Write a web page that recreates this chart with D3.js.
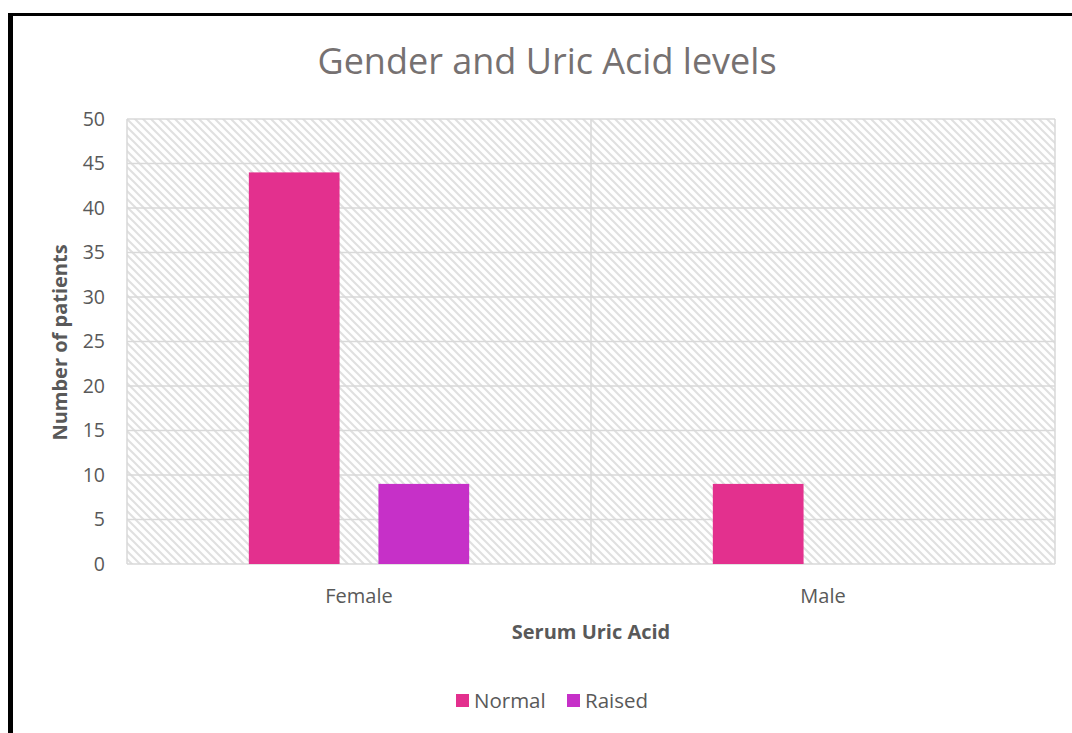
<!DOCTYPE html>
<html>
<head>
<meta charset="utf-8">
<script src="https://cdn.jsdelivr.net/npm/d3@7"></script>
<style>
  html, body { margin: 0; padding: 0; background: #fff; }
  svg { display: block; }
</style>
</head>
<body>
<svg id="chart" width="1072" height="733"></svg>
<script>
// Chart data
const categories = ["Female", "Male"];
const seriesNames = ["Normal", "Raised"];
const normalValues = [44, 9];
const raisedValues = [9, 0];
const yTicks = [0, 5, 10, 15, 20, 25, 30, 35, 40, 45, 50];
const seriesColors = ["#e3308e", "#c630c8"];

const svg = d3.select("#chart");
const W = 1072, H = 733;
const plot = { left: 127, right: 1055, top: 119, bottom: 564 };
const font = "'Open Sans', 'Liberation Sans', sans-serif";

// Outer frame (top and left edges)
svg.append("line").attr("x1", 8).attr("x2", W).attr("y1", 14.5).attr("y2", 14.5)
  .attr("stroke", "#000").attr("stroke-width", 3);
svg.append("line").attr("x1", 10.5).attr("x2", 10.5).attr("y1", 13).attr("y2", H)
  .attr("stroke", "#000").attr("stroke-width", 5);

// Diagonal hatch fill for the plot area
const defs = svg.append("defs");
const pat = defs.append("pattern").attr("id", "hatch")
  .attr("patternUnits", "userSpaceOnUse").attr("width", 8).attr("height", 8);
pat.append("rect").attr("width", 8).attr("height", 8).attr("fill", "#fff");
pat.append("path").attr("d", "M-2,-2 L10,10 M-2,6 L2,10 M6,-2 L10,2")
  .attr("stroke", "#e0e0e0").attr("stroke-width", 2);

const x0 = d3.scaleBand().domain(categories).range([plot.left, plot.right]);
const x1 = d3.scaleBand().domain(seriesNames).range([0, x0.bandwidth()])
  .paddingInner(0.3).paddingOuter(0.94);
const y = d3.scaleLinear().domain([0, 50]).range([plot.bottom, plot.top]);

svg.append("rect").attr("x", plot.left).attr("y", plot.top)
  .attr("width", plot.right - plot.left).attr("height", plot.bottom - plot.top)
  .attr("fill", "url(#hatch)");

// Horizontal gridlines
svg.append("g").selectAll("line").data(yTicks).join("line")
  .attr("x1", plot.left).attr("x2", plot.right)
  .attr("y1", d => y(d)).attr("y2", d => y(d))
  .attr("stroke", "#d9d9d9").attr("stroke-width", 1.5);

// Vertical gridlines at category boundaries
const vLines = [plot.left, x0(categories[1]), plot.right];
svg.append("g").selectAll("line").data(vLines).join("line")
  .attr("x1", d => d).attr("x2", d => d)
  .attr("y1", plot.top).attr("y2", plot.bottom)
  .attr("stroke", "#d9d9d9").attr("stroke-width", 1.5);

// Bars
const rows = categories.map((c, i) => ({ cat: c, vals: [normalValues[i], raisedValues[i]] }));
const groups = svg.append("g").selectAll("g").data(rows).join("g")
  .attr("transform", d => `translate(${x0(d.cat)},0)`);
groups.selectAll("rect")
  .data(d => d.vals.map((v, j) => ({ s: seriesNames[j], v, j })).filter(e => e.v > 0))
  .join("rect")
  .attr("x", d => x1(d.s)).attr("width", x1.bandwidth())
  .attr("y", d => y(d.v)).attr("height", d => y(0) - y(d.v))
  .attr("fill", d => seriesColors[d.j]);

// Y axis labels
const yAxis = d3.axisLeft(y).tickValues(yTicks).tickSize(0).tickPadding(22);
const yg = svg.append("g").attr("transform", `translate(${plot.left},0)`).call(yAxis);
yg.select(".domain").remove();
yg.selectAll("text").attr("font-family", font).attr("font-size", 19.5).attr("fill", "#595959");

// X axis labels
const xAxis = d3.axisBottom(x0).tickSize(0).tickPadding(25);
const xg = svg.append("g").attr("transform", `translate(0,${plot.bottom})`).call(xAxis);
xg.select(".domain").remove();
xg.selectAll("text").attr("font-family", font).attr("font-size", 20).attr("fill", "#595959");

// Title
svg.append("text").attr("x", 547).attr("y", 74).attr("text-anchor", "middle")
  .attr("font-family", font).attr("font-size", 36).attr("fill", "#767171")
  .text("Gender and Uric Acid levels");

// Axis titles
svg.append("text").attr("x", 591).attr("y", 639).attr("text-anchor", "middle")
  .attr("font-family", font).attr("font-size", 20).attr("font-weight", "bold").attr("fill", "#595959")
  .text("Serum Uric Acid");
svg.append("text").attr("transform", `translate(67,${(plot.top + plot.bottom) / 2 + 1}) rotate(-90)`)
  .attr("text-anchor", "middle")
  .attr("font-family", font).attr("font-size", 20).attr("font-weight", "bold").attr("fill", "#595959")
  .text("Number of patients");

// Legend
const legend = svg.append("g");
const legendItems = [{ name: seriesNames[0], x: 456 }, { name: seriesNames[1], x: 567 }];
legendItems.forEach((d, i) => {
  legend.append("rect").attr("x", d.x).attr("y", 694).attr("width", 13).attr("height", 13)
    .attr("fill", seriesColors[i]);
  legend.append("text").attr("x", d.x + 18).attr("y", 708)
    .attr("font-family", font).attr("font-size", 20.5).attr("fill", "#595959").text(d.name);
});
</script>
</body>
</html>
